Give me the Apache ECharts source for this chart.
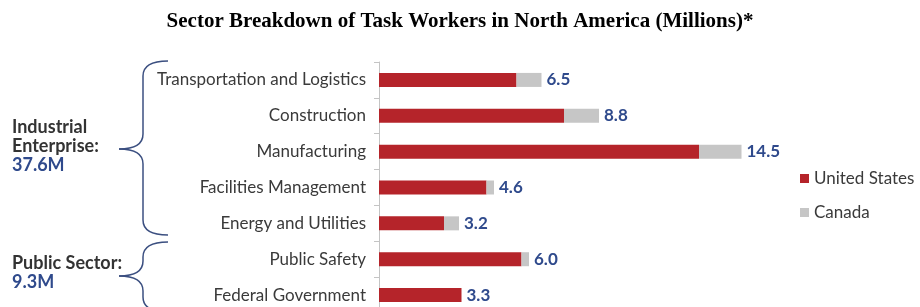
<!DOCTYPE html>
<html>
<head>
<meta charset="utf-8">
<script src="https://cdn.jsdelivr.net/npm/echarts@6/dist/echarts.min.js"></script>
<style>
  html, body { margin: 0; padding: 0; background: #fff; }
  #chart { width: 920px; height: 307px; }
</style>
</head>
<body>
<div id="chart"></div>
<script>
// data (millions)
var categories = ['Transportation and Logistics', 'Construction', 'Manufacturing',
  'Facilities Management', 'Energy and Utilities', 'Public Safety', 'Federal Government'];
var unitedStates = [5.5, 7.4, 12.8, 4.3, 2.6, 5.7, 3.3];
var canada = [1.0, 1.4, 1.7, 0.3, 0.6, 0.3, 0];
var totals = [6.5, 8.8, 14.5, 4.6, 3.2, 6.0, 3.3];

var labelFont = 'Lato, "Open Sans", sans-serif';
var blue = '#2f4a8c';
var braceColor = '#3b4f80';

// curly brace built from plain line / bezier graphic pieces
function brace(xTip, xLine, xEnd, yTop, yTip, yBot) {
  var r = 15;
  var st = { stroke: braceColor, lineWidth: 1.5, fill: null };
  return [
    { type: 'bezierCurve', shape: { x1: xEnd, y1: yTop, cpx1: xLine, cpy1: yTop, x2: xLine, y2: yTop + r }, style: st },
    { type: 'line', shape: { x1: xLine, y1: yTop + r, x2: xLine, y2: yTip - r }, style: st },
    { type: 'bezierCurve', shape: { x1: xLine, y1: yTip - r, cpx1: xLine, cpy1: yTip, x2: xTip, y2: yTip }, style: st },
    { type: 'bezierCurve', shape: { x1: xTip, y1: yTip, cpx1: xLine, cpy1: yTip, x2: xLine, y2: yTip + r }, style: st },
    { type: 'line', shape: { x1: xLine, y1: yTip + r, x2: xLine, y2: yBot - r }, style: st },
    { type: 'bezierCurve', shape: { x1: xLine, y1: yBot - r, cpx1: xLine, cpy1: yBot, x2: xEnd, y2: yBot }, style: st }
  ];
}

function sideText(txt, y, color) {
  return {
    type: 'text', x: 12, y: y,
    style: { text: txt, font: 'bold 18px ' + labelFont, fill: color, verticalAlign: 'middle' }
  };
}

var chart = echarts.init(document.getElementById('chart'));

var option = {
  animation: false,
  title: {
    text: 'Sector Breakdown of Task Workers in North America (Millions)*',
    left: 'center',
    top: 6,
    textStyle: {
      fontFamily: '"Liberation Serif", serif',
      fontWeight: 'bold',
      fontSize: 21,
      color: '#000'
    }
  },
  legend: {
    orient: 'vertical',
    left: 800,
    top: 170,
    padding: 0,
    itemWidth: 9,
    itemHeight: 9,
    itemGap: 17,
    icon: 'rect',
    textStyle: { fontFamily: labelFont, fontSize: 17, color: '#3a3a3a' },
    data: ['United States', 'Canada']
  },
  grid: {
    left: 379,
    top: 62,
    width: 500,
    height: 251,
    outerBoundsMode: 'none'
  },
  xAxis: {
    type: 'value',
    min: 0,
    max: 20,
    show: false
  },
  yAxis: {
    type: 'category',
    inverse: true,
    data: categories,
    axisLine: { lineStyle: { color: '#c4c4c4', width: 1 } },
    axisTick: { show: true, length: 5, lineStyle: { color: '#c4c4c4' } },
    axisLabel: {
      margin: 13,
      fontFamily: labelFont,
      fontSize: 17,
      color: '#3a3a3a'
    }
  },
  series: [
    {
      name: 'United States',
      type: 'bar',
      stack: 'total',
      barWidth: 14,
      data: unitedStates,
      itemStyle: { color: '#b5242a' }
    },
    {
      name: 'Canada',
      type: 'bar',
      stack: 'total',
      barWidth: 14,
      data: canada,
      itemStyle: { color: '#c6c6c6' },
      label: {
        show: true,
        position: 'right',
        distance: 5,
        fontFamily: labelFont,
        fontWeight: 'bold',
        fontSize: 17,
        color: blue,
        formatter: function (p) { return totals[p.dataIndex].toFixed(1); }
      }
    }
  ],
  graphic: brace(119, 143, 168, 61, 149, 235)
    .concat(brace(119, 143, 168, 242, 276, 312))
    .concat([
      sideText('Industrial', 127, '#333'),
      sideText('Enterprise:', 146, '#333'),
      sideText('37.6M', 165, blue),
      sideText('Public Sector:', 263, '#333'),
      sideText('9.3M', 282, blue)
    ])
};

chart.setOption(option);
</script>
</body>
</html>
